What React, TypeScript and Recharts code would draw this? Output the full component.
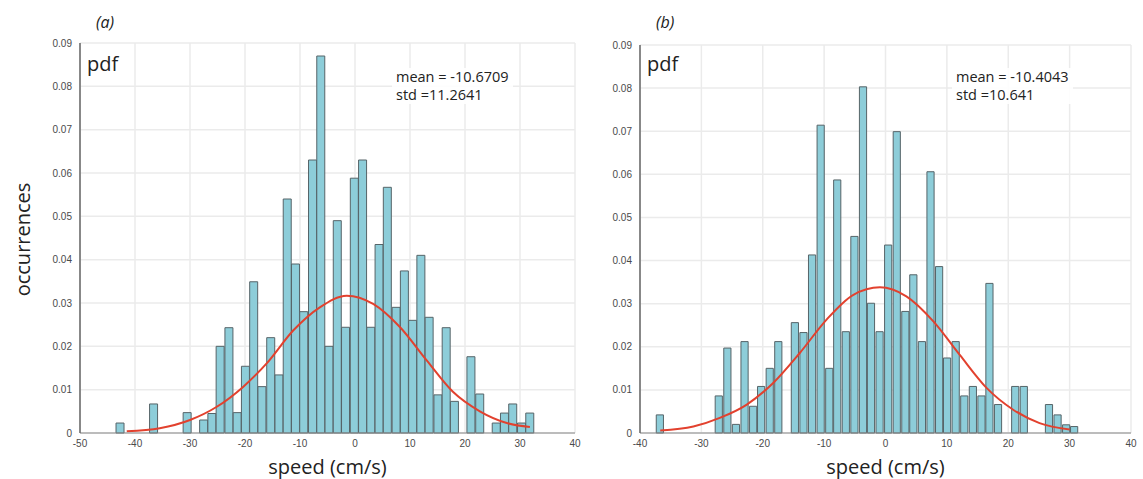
import { ComposedChart, Bar, Line, XAxis, YAxis, CartesianGrid } from "recharts";

// panel (a) histogram bins
const centersA = [
  -42.7, -41.2, -39.7, -38.1, -36.6, -35.1, -33.6, -32.1, -30.5, -29.0,
  -27.5, -26.0, -24.5, -22.9, -21.4, -19.9, -18.4, -16.9, -15.3, -13.8,
  -12.3, -10.8, -9.3, -7.7, -6.2, -4.7, -3.2, -1.7, -0.1, 1.4,
  2.9, 4.4, 5.9, 7.5, 9.0, 10.5, 12.0, 13.5, 15.1, 16.6,
  18.1, 19.6, 21.1, 22.7, 24.2, 25.7, 27.2, 28.7, 30.3, 31.8,
];
const countsA = [
  0.0023, 0, 0, 0, 0.0067, 0, 0, 0, 0.0047, 0,
  0.003, 0.0045, 0.02, 0.0243, 0.0047, 0.0154, 0.0349, 0.0107, 0.022, 0.0134,
  0.054, 0.039, 0.028, 0.063, 0.087, 0.02, 0.049, 0.0244, 0.0588, 0.063,
  0.0244, 0.0435, 0.0567, 0.029, 0.0374, 0.026, 0.041, 0.0267, 0.0088, 0.0243,
  0.0073, 0, 0.0176, 0.009, 0, 0.0023, 0.0046, 0.0067, 0.0023, 0.0046,
];
// fitted curve (a)
const curveXA = [-41.5, -35.5, -30, -25.2, -20.3, -16.1, -11.2, -6.4, -1.5, 3.3, 8.2, 13, 17.8, 22.7, 27.6, 31.8];
const curveYA = [0.0004, 0.0011, 0.003, 0.006, 0.0107, 0.016, 0.0237, 0.029, 0.0317, 0.0298, 0.0244, 0.0168, 0.0095, 0.005, 0.0023, 0.0014];

// panel (b)
const centersB = [
  -36.7, -35.3, -33.9, -32.6, -31.2, -29.8, -28.4, -27.1, -25.7, -24.3,
  -22.9, -21.5, -20.2, -18.8, -17.4, -16.0, -14.7, -13.3, -11.9, -10.5,
  -9.1, -7.8, -6.4, -5.0, -3.6, -2.3, -0.9, 0.5, 1.9, 3.3,
  4.6, 6.0, 7.4, 8.8, 10.1, 11.5, 12.9, 14.3, 15.7, 17.0,
  18.4, 19.8, 21.2, 22.6, 23.9, 25.3, 26.7, 28.1, 29.5, 30.8,
];
const countsB = [
  0.0042, 0, 0, 0, 0, 0, 0, 0.0086, 0.0197, 0.002,
  0.0212, 0.0062, 0.0108, 0.015, 0.0212, 0, 0.0256, 0.0233, 0.0413, 0.0714,
  0.015, 0.0587, 0.0235, 0.0456, 0.0803, 0.0301, 0.0235, 0.0436, 0.0699, 0.0282,
  0.0367, 0.0212, 0.0606, 0.0386, 0.0174, 0.0212, 0.0086, 0.0108, 0.0086, 0.0347,
  0.0066, 0, 0.0108, 0.0108, 0, 0, 0.0066, 0.0042, 0.0019, 0.0015,
];
const curveXB = [-36.7, -31.3, -27, -22.6, -18.3, -14, -9.6, -5.3, -0.9, 3.4, 7.8, 12.1, 16.5, 20.8, 25.1, 30];
const curveYB = [0.0006, 0.0015, 0.0035, 0.0066, 0.0116, 0.0185, 0.0263, 0.032, 0.0338, 0.0317, 0.0259, 0.0181, 0.0104, 0.0054, 0.0023, 0.0008];

const xTicksA = [-50, -40, -30, -20, -10, 0, 10, 20, 30, 40];
const xTicksB = [-40, -30, -20, -10, 0, 10, 20, 30, 40];
const yTicks = [0, 0.01, 0.02, 0.03, 0.04, 0.05, 0.06, 0.07, 0.08, 0.09];

const font = "'Open Sans', 'Noto Sans', sans-serif";
const tickStyle = { fontSize: 10, fill: "#4a4a4a", fontFamily: "Arial, sans-serif" };

function Panel({ left, width, margin, centers, counts, curveX, curveY, xTicks, tag, stats }: any) {
  const bins = centers.map((x: number, i: number) => ({ x, count: counts[i] }));
  const curve = curveX.map((x: number, i: number) => ({ x, pdf: curveY[i] }));
  const domain: [number, number] = [xTicks[0], xTicks[xTicks.length - 1]];
  const plotLeft = left + margin.left + 30;
  const plotRight = left + width - margin.right;
  const mid = (plotLeft + plotRight) / 2;
  return (
    <>
      <div style={{ position: "absolute", left, top: 0 }}>
        <ComposedChart width={width} height={479} data={bins} margin={margin}>
          <CartesianGrid stroke="#ebebeb" strokeWidth={1.5} horizontal vertical />
          <XAxis
            dataKey="x"
            type="number"
            domain={domain}
            ticks={xTicks}
            allowDataOverflow
            height={20}
            tickLine={false}
            tickMargin={1}
            axisLine={{ stroke: "#888" }}
            tick={tickStyle}
          />
          {/* top frame; the fitted curve is bound to it so bars keep their own band size */}
          <XAxis
            xAxisId="top"
            orientation="top"
            dataKey="x"
            type="number"
            domain={domain}
            ticks={xTicks}
            allowDataOverflow
            height={0}
            tick={false}
            tickSize={0}
            axisLine={{ stroke: "#666", strokeWidth: 1.5 }}
          />
          <YAxis
            type="number"
            domain={[0, 0.09]}
            ticks={yTicks}
            width={30}
            tickLine={false}
            tickMargin={2}
            axisLine={{ stroke: "#666", strokeWidth: 1.5 }}
            tick={tickStyle}
            tickFormatter={(v: number) => (v === 0 ? "0" : v.toFixed(2))}
          />
          <Bar dataKey="count" barSize={8} fill="#8dcdd9" stroke="#566468" strokeWidth={1} isAnimationActive={false} />
          <Line
            xAxisId="top"
            data={curve}
            dataKey="pdf"
            type="monotone"
            stroke="#e2412e"
            strokeWidth={2}
            dot={false}
            isAnimationActive={false}
          />
        </ComposedChart>
      </div>
      <div style={{ position: "absolute", left: plotLeft + 16, top: 11, fontFamily: font, fontStyle: "italic", fontSize: 16, color: "#222" }}>
        {tag}
      </div>
      <div style={{ position: "absolute", left: plotLeft + 7, top: 50, fontFamily: font, fontSize: 20, color: "#222" }}>
        pdf
      </div>
      <div
        style={{
          position: "absolute",
          left: plotLeft + 312,
          top: 68,
          padding: "0 4px",
          background: "rgba(255,255,255,0.9)",
          fontFamily: font,
          fontSize: 14.5,
          lineHeight: "18px",
          color: "#222",
        }}
      >
        <div>{stats[0]}</div>
        <div>{stats[1]}</div>
      </div>
      <div
        style={{
          position: "absolute",
          left: mid - 100,
          width: 200,
          top: 453,
          textAlign: "center",
          fontFamily: font,
          fontSize: 20,
          color: "#222",
        }}
      >
        speed (cm/s)
      </div>
    </>
  );
}

export default function App() {
  return (
    <div style={{ position: "absolute", left: 0, top: 0, width: 1143, height: 479, background: "#fff", overflow: "hidden" }}>
      <div
        style={{
          position: "absolute",
          left: 22 - 80,
          top: 240 - 14,
          width: 160,
          textAlign: "center",
          transform: "rotate(-90deg)",
          fontFamily: font,
          fontSize: 20,
          color: "#222",
        }}
      >
        occurrences
      </div>
      <Panel
        left={0}
        width={590}
        margin={{ top: 43, right: 15, bottom: 26, left: 50 }}
        centers={centersA}
        counts={countsA}
        curveX={curveXA}
        curveY={curveYA}
        xTicks={xTicksA}
        tag="(a)"
        stats={["mean = -10.6709", "std =11.2641"]}
      />
      <Panel
        left={580}
        width={563}
        margin={{ top: 45, right: 12, bottom: 26, left: 30 }}
        centers={centersB}
        counts={countsB}
        curveX={curveXB}
        curveY={curveYB}
        xTicks={xTicksB}
        tag="(b)"
        stats={["mean = -10.4043", "std =10.641"]}
      />
    </div>
  );
}
